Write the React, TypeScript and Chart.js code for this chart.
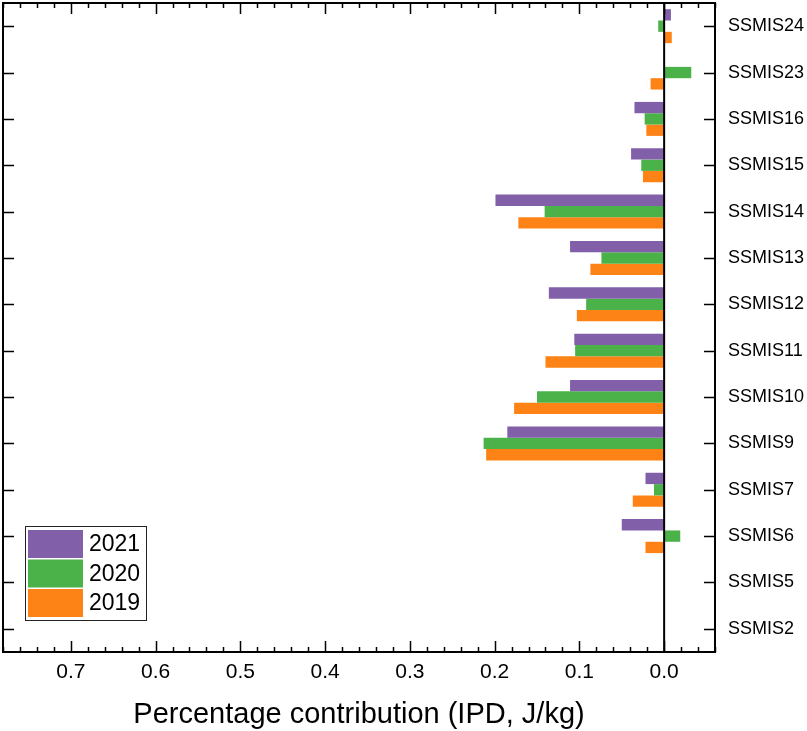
import React, { useEffect, useRef } from "react";
import { Chart, registerables } from "chart.js";

Chart.register(...registerables);

// Channels, listed from top to bottom
const CHANNELS = [
  "SSMIS24", "SSMIS23", "SSMIS16", "SSMIS15", "SSMIS14", "SSMIS13", "SSMIS12",
  "SSMIS11", "SSMIS10", "SSMIS9", "SSMIS7", "SSMIS6", "SSMIS5", "SSMIS2",
];

// Contribution per channel (IPD, J/kg)
const VALUES_2021 = [-0.008, 0, 0.035, 0.039, 0.199, 0.111, 0.136, 0.106, 0.111, 0.185, 0.022, 0.05, 0, 0];
const VALUES_2020 = [0.007, -0.032, 0.023, 0.027, 0.141, 0.074, 0.092, 0.105, 0.15, 0.213, 0.012, -0.019, 0, 0];
const VALUES_2019 = [-0.009, 0.016, 0.021, 0.025, 0.172, 0.087, 0.103, 0.14, 0.177, 0.21, 0.037, 0.022, 0, 0];

const SERIES_LABELS = ["2021", "2020", "2019"];
const SERIES_COLORS = ["#8160A9", "#4BB24A", "#FD8317"];

const X_TICKS = [0.0, 0.1, 0.2, 0.3, 0.4, 0.5, 0.6, 0.7];
const X_MIN = -0.06;
const X_MAX = 0.78;
const X_TITLE = "Percentage contribution (IPD, J/kg)";

const FONT = "'Liberation Sans', Arial, Helvetica, sans-serif";

// Frame, inward tick marks, zero line, axis title and the boxed legend
const decorPlugin = {
  id: "decor",
  afterDatasetsDraw(chart: any) {
    const { ctx, chartArea: a } = chart;
    const sx = chart.scales.x;
    const sy = chart.scales.y;
    ctx.save();
    ctx.strokeStyle = "#000";

    // zero line
    ctx.lineWidth = 2;
    const x0 = sx.getPixelForValue(0);
    ctx.beginPath();
    ctx.moveTo(x0, a.top);
    ctx.lineTo(x0, a.bottom);
    ctx.stroke();

    // x ticks (top and bottom, pointing inward)
    ctx.lineWidth = 1.5;
    for (let i = -3; i <= 39; i++) {
      const v = i * 0.02;
      const px = Math.round(sx.getPixelForValue(v)) + 0.5;
      const len = i % 5 === 0 ? 11 : 5;
      ctx.beginPath();
      ctx.moveTo(px, a.bottom);
      ctx.lineTo(px, a.bottom - len);
      ctx.moveTo(px, a.top);
      ctx.lineTo(px, a.top + len);
      ctx.stroke();
    }

    // y ticks (left and right, pointing inward)
    CHANNELS.forEach((_, i) => {
      const py = Math.round(sy.getPixelForValue(i)) + 0.5;
      ctx.beginPath();
      ctx.moveTo(a.left, py);
      ctx.lineTo(a.left + 11, py);
      ctx.moveTo(a.right, py);
      ctx.lineTo(a.right - 11, py);
      ctx.stroke();
    });

    // frame
    ctx.lineWidth = 2;
    ctx.strokeRect(a.left, a.top, a.right - a.left, a.bottom - a.top);
    ctx.restore();
  },
  afterDraw(chart: any) {
    const { ctx, chartArea: a } = chart;

    // x-axis title, centred under the plot area
    ctx.save();
    ctx.fillStyle = "#000";
    ctx.font = `29px ${FONT}`;
    ctx.textAlign = "center";
    ctx.textBaseline = "alphabetic";
    ctx.fillText(X_TITLE, (a.left + a.right) / 2, 723);

    // legend
    const boxX = a.left + 22;
    const boxY = 526;
    const boxW = 121;
    const boxH = 94;
    ctx.fillStyle = "#fff";
    ctx.fillRect(boxX, boxY, boxW, boxH);
    ctx.strokeStyle = "#222";
    ctx.lineWidth = 1;
    ctx.strokeRect(boxX + 0.5, boxY + 0.5, boxW, boxH);
    ctx.font = `23px ${FONT}`;
    ctx.textBaseline = "middle";
    ctx.textAlign = "left";
    chart.data.datasets.forEach((ds: any, i: number) => {
      const sy = boxY + 4 + i * 29.5;
      ctx.fillStyle = ds.backgroundColor;
      ctx.fillRect(boxX + 3, sy, 55, 28);
      ctx.fillStyle = "#000";
      ctx.fillText(ds.label, boxX + 64, sy + 15);
    });
    ctx.restore();
  },
};

export default function App() {
  const canvasRef = useRef<HTMLCanvasElement | null>(null);

  useEffect(() => {
    if (!canvasRef.current) return;
    const seriesValues = [VALUES_2021, VALUES_2020, VALUES_2019];
    const chart = new Chart(canvasRef.current, {
      type: "bar",
      data: {
        labels: CHANNELS,
        datasets: SERIES_LABELS.map((label, i) => ({
          label,
          data: seriesValues[i],
          backgroundColor: SERIES_COLORS[i],
          borderWidth: 0,
          categoryPercentage: 0.733,
          barPercentage: 1.0,
        })),
      },
      options: {
        indexAxis: "y",
        responsive: false,
        animation: false,
        layout: { padding: { left: 3, top: 3, right: 0, bottom: 0 } },
        plugins: {
          legend: { display: false },
          tooltip: { enabled: false },
        },
        scales: {
          x: {
            type: "linear",
            reverse: true,
            min: X_MIN,
            max: X_MAX,
            grid: { display: false, drawTicks: false },
            border: { display: false },
            afterBuildTicks: (s: any) => {
              s.ticks = X_TICKS.map((value) => ({ value }));
            },
            afterFit: (s: any) => {
              s.height = 79;
              s.paddingLeft = 0;
              s.paddingRight = 0;
            },
            ticks: {
              autoSkip: false,
              maxRotation: 0,
              padding: 8,
              color: "#000",
              font: { size: 21, family: FONT },
              callback: (v: any) => Number(v).toFixed(1),
            },
          },
          y: {
            type: "category",
            position: "right",
            offset: true,
            grid: { display: false, drawTicks: false },
            border: { display: false },
            afterFit: (s: any) => {
              s.width = 92;
              s.paddingTop = 0;
              s.paddingBottom = 0;
            },
            ticks: {
              padding: 13,
              color: "#000",
              font: { size: 18, family: FONT },
            },
          },
        },
      },
      plugins: [decorPlugin],
    } as any);
    return () => chart.destroy();
  }, []);

  return (
    <div style={{ position: "absolute", left: 0, top: 0, width: 807, height: 731, background: "#fff" }}>
      <canvas ref={canvasRef} width={807} height={731} style={{ display: "block" }} />
    </div>
  );
}
